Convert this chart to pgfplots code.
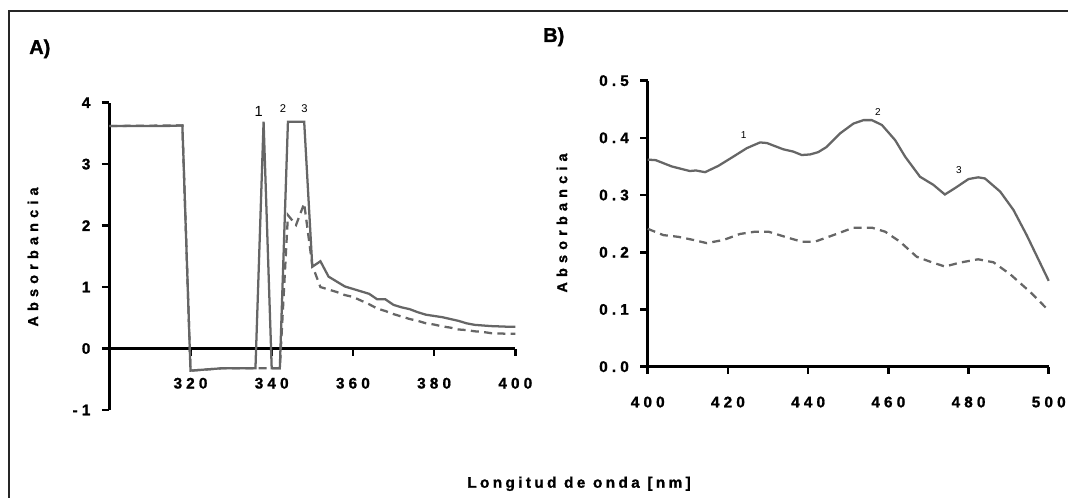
\documentclass[border=0pt]{standalone}
\usepackage{fontspec}
\setmainfont{Liberation Sans}
\newfontfamily\tickf[LetterSpace=27, FakeBold=1.2]{Liberation Sans Bold}
\newfontfamily\labf[LetterSpace=36, FakeBold=1.2]{Liberation Sans Bold}
\newfontfamily\xlabf[LetterSpace=22, FakeBold=1.2]{Liberation Sans Bold}
\newfontfamily\titf[FakeBold=1.2]{Liberation Sans Bold}
\usepackage{pgfplots}
\pgfplotsset{compat=1.18}
\definecolor{lg}{HTML}{666666}

\pgfplotsset{myax/.style={
  scale only axis, clip=false,
  axis line style={line width=2.2pt,-},
  x axis line style={line width=2.2pt,-},
  y axis line style={line width=2.2pt,-},
  every inner x axis line/.append style={line width=2.2pt,-},
  every outer x axis line/.append style={line width=2.2pt,-},
  every inner y axis line/.append style={line width=2.2pt,-},
  every outer y axis line/.append style={line width=2.2pt,-},
  tick style={black, line width=2pt},
  major tick length=5.5pt,
  tick align=outside,
  ticklabel style={font=\tickf\fontsize{11.5}{13}\selectfont, inner sep=0pt},
  /pgf/number format/assume math mode=true,
  yticklabel style={anchor=east, xshift=-8.5pt},
},
sol/.style={lg, line width=1.7pt, line join=miter, mark=none},
das/.style={lg, line width=1.7pt, dash pattern=on 6pt off 4pt, mark=none},
}

\begin{document}
\begin{tikzpicture}
\useasboundingbox (0,0) rectangle (801pt,373.5pt);
\draw[line width=1.2pt, black!85] (6.75pt,-20pt) -- (6.75pt,365.25pt) -- (830pt,365.25pt);

% ---------- Panel A ----------
\begin{axis}[myax,
  at={(81.975pt,66pt)}, anchor=south west,
  width=304.5pt, height=230.5pt,
  xmin=300, xmax=400, ymin=-1, ymax=4,
  axis x line*=middle, axis y line*=left,
  xtick={320,340,360,380,400},
  xticklabels={320,340,360,380,400},
  ytick={-1,0,1,2,3,4},
  yticklabels={-1,0,1,2,3,4},
  xticklabel style={anchor=base, yshift=-24.5pt},
]
\addplot[das] coordinates {
(300,3.62)(318,3.63)(320,-0.36)(322,-0.35)(324,-0.34)(326,-0.33)(328,-0.32)(330,-0.32)(332,-0.32)(334,-0.32)(336,-0.32)
(338,-0.32)(340,-0.32)(342,-0.32)(344,2.17)(346,2.01)(348,2.36)(350,1.35)(352,1.00)(354,0.96)(356,0.92)(358,0.87)
(360,0.84)(362,0.78)(364,0.72)(366,0.65)(368,0.61)(370,0.56)(372,0.52)(374,0.48)(376,0.45)(378,0.41)(380,0.39)
(382,0.36)(384,0.34)(386,0.31)(388,0.30)(390,0.28)(392,0.27)(394,0.25)(396,0.245)(398,0.24)(400,0.24)};
\addplot[sol] coordinates {
(300,3.62)(302,3.62)(306,3.62)(310,3.62)(314,3.62)(318,3.63)(320,-0.36)(322,-0.35)(324,-0.34)(326,-0.33)(328,-0.32)
(330,-0.32)(332,-0.32)(334,-0.32)(336,-0.32)(338,3.69)(340,-0.32)(342,-0.32)(344,3.69)(346,3.69)(348,3.69)
(350,1.33)(352,1.42)(354,1.17)(356,1.09)(358,1.01)(360,0.97)(362,0.93)(364,0.89)(366,0.80)(368,0.80)(370,0.71)
(372,0.67)(374,0.64)(376,0.59)(378,0.55)(380,0.53)(382,0.51)(384,0.48)(386,0.45)(388,0.41)(390,0.385)(392,0.375)
(394,0.365)(396,0.36)(398,0.355)(400,0.355)};
\node[font=\fontsize{11}{12}\selectfont, inner sep=0pt] at (axis cs:336.8,3.85) {1};
\node[font=\fontsize{8.4}{9}\selectfont, inner sep=0pt] at (axis cs:342.8,3.91) {2};
\node[font=\fontsize{8.4}{9}\selectfont, inner sep=0pt] at (axis cs:348.1,3.91) {3};
\end{axis}

% ---------- Panel B ----------
\begin{axis}[myax,
  at={(485.8pt,98.5pt)}, anchor=south west,
  width=300.75pt, height=214.5pt,
  xmin=400, xmax=500, ymin=0, ymax=0.5,
  axis x line*=bottom, axis y line*=left,
  xtick={400,420,440,460,480,500},
  xticklabels={400,420,440,460,480,500},
  ytick={0,0.1,0.2,0.3,0.4,0.5},
  yticklabels={0.0,0.1,0.2,0.3,0.4,0.5},
  xticklabel style={anchor=base, yshift=-25pt},
]
\addplot[das] coordinates {
(400,0.241)(403.9,0.230)(407.6,0.227)(411.4,0.2215)(414.7,0.216)(418.9,0.2215)(423,0.232)(426.8,0.236)(430.1,0.236)
(434.7,0.226)(438.4,0.2185)(441.7,0.2185)(446.3,0.230)(451.3,0.243)(455.9,0.243)(459.2,0.236)(462.9,0.2185)
(467.1,0.192)(470.4,0.1836)(474.1,0.175)(477.9,0.182)(482.4,0.1877)(486.2,0.1825)(490.4,0.1615)(495.3,0.131)(500,0.098)};
\addplot[sol] coordinates {
(400,0.362)(402,0.361)(406,0.350)(410.5,0.342)(412,0.343)(414.3,0.340)(417.6,0.351)(421.3,0.367)(424.7,0.382)
(428,0.392)(429.7,0.391)(433.8,0.380)(436.3,0.376)(438.4,0.370)(440.5,0.371)(442.5,0.375)(444.6,0.384)(448,0.408)
(451.3,0.425)(453.8,0.431)(455.9,0.431)(458.4,0.4225)(461.7,0.396)(464.2,0.367)(467.9,0.332)(471.2,0.318)
(474.1,0.301)(476.6,0.312)(480,0.328)(482.4,0.331)(484.1,0.329)(487.9,0.306)(491.2,0.274)(494.5,0.230)(500,0.150)};
\node[font=\fontsize{7.5}{8}\selectfont, inner sep=0pt] at (axis cs:423.9,0.405) {1};
\node[font=\fontsize{7.5}{8}\selectfont, inner sep=0pt] at (axis cs:457.4,0.446) {2};
\node[font=\fontsize{7.5}{8}\selectfont, inner sep=0pt] at (axis cs:477.6,0.343) {3};
\end{axis}

% ---------- Texts ----------
\node[anchor=base west, inner sep=0pt, font=\titf\fontsize{15}{16}\selectfont] at (21.75pt,333pt) {A)};
\node[anchor=base west, inner sep=0pt, font=\titf\fontsize{15}{16}\selectfont] at (407.25pt,342pt) {B)};
\node[rotate=90, inner sep=0pt, font=\labf\fontsize{10.8}{12}\selectfont] at (24.75pt,180.75pt) {Absorbancia};
\node[rotate=90, inner sep=0pt, font=\labf\fontsize{10.8}{12}\selectfont] at (421.5pt,206.25pt) {Absorbancia};
\node[anchor=base, inner sep=0pt, font=\xlabf\fontsize{11.5}{13}\selectfont] at (434.25pt,7.7pt) {Longitud de onda [nm]};
\end{tikzpicture}
\end{document}
